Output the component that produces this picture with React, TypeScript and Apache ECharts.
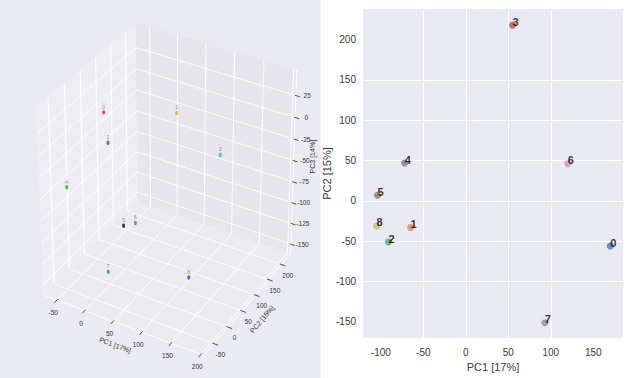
import React, { useEffect, useRef } from 'react';
import * as echarts from 'echarts';

// ---------- Right panel (2D PCA scatter) ----------
const pointLabels = ['0', '1', '2', '3', '4', '5', '6', '7', '8'];
const pc1 = [170, -65, -91, 55, -72, -104, 120, 93, -105];
const pc2 = [-56, -33, -51, 218, 47, 7, 46, -151, -31];
const pointColors = ['#4c72b0', '#dd8452', '#55a868', '#c44e52', '#8172b3', '#937860', '#da8bc3', '#8c8c8c', '#ccb974'];
const xTicks2d = [-100, -50, 0, 50, 100, 150];
const yTicks2d = [-150, -100, -50, 0, 50, 100, 150, 200];
const xRange2d = [-121, 185];
const yRange2d = [-170, 238];

// ---------- Left panel (3D PCA scatter) ----------
const labels3d = ['0', '1', '2', '3', '4', '5', '6', '7', '8'];
const pc1_3d = [-39, 57, -18, 120, -49, 13, 25, 5, 118];
const pc2_3d = [58, 119, 32, 145, -46, 22, 39, -16, 40];
const pc3_3d = [11, 11, -11, -32, -43, -97, -97, -140, -140];
const colors3d = ['#d62728', '#d4b12a', '#2455c3', '#30b5d5', '#2ca02c', '#111111', '#6f62d0', '#2ca02c', '#2455c3'];
const xTicks3d = [-50, 0, 50, 100, 150, 200];
const yTicks3d = [-50, 0, 50, 100, 150, 200];
const zTicks3d = [-150, -125, -100, -75, -50, -25, 0, 25];
const xLim3d = [-75, 205];
const yLim3d = [-85, 236];
const zLim3d = [-162, 54];

const FONT = "'Liberation Sans', Arial, sans-serif";

// camera (matplotlib-like default view)
const AZ = (-60 * Math.PI) / 180;
const EL = (30 * Math.PI) / 180;
const DIST = 10;
const R = [-Math.sin(AZ), Math.cos(AZ), 0];
const U = [-Math.sin(EL) * Math.cos(AZ), -Math.sin(EL) * Math.sin(AZ), Math.cos(EL)];
const E = [Math.cos(EL) * Math.cos(AZ), Math.cos(EL) * Math.sin(AZ), Math.sin(EL)];

function project(x: number, y: number, z: number): [number, number] {
  const a = (x - xLim3d[0]) / (xLim3d[1] - xLim3d[0]) - 0.5;
  const b = (y - yLim3d[0]) / (yLim3d[1] - yLim3d[0]) - 0.5;
  const c = (z - zLim3d[0]) / (zLim3d[1] - zLim3d[0]) - 0.5;
  const sx = a * R[0] + b * R[1] + c * R[2];
  const sy = a * U[0] + b * U[1] + c * U[2];
  const depth = DIST - (a * E[0] + b * E[1] + c * E[2]);
  return [sx / depth, sy / depth];
}

// projection plane extent shown by the left panel
const projX = [-0.09088, 0.08181];
const projY = [-0.09064, 0.08542];

const App: React.FC = () => {
  const ref = useRef<HTMLDivElement>(null);

  useEffect(() => {
    document.body.style.margin = '0';
    const chart = echarts.init(ref.current!, null, { renderer: 'svg' });
    const [x0, x1] = xLim3d;
    const [y0, y1] = yLim3d;
    const [z0, z1] = zLim3d;
    const Wy = y1 - y0;
    const Wx = x1 - x0;

    const renderBox = (params: any, api: any) => {
      const P = (x: number, y: number, z: number) => api.coord(project(x, y, z));
      const ch: any[] = [];
      const poly = (pts: number[][], fill: string) =>
        ch.push({ type: 'polygon', shape: { points: pts }, style: { fill, stroke: null } });
      const line = (p: number[], q: number[], stroke: string, w: number) =>
        ch.push({ type: 'line', shape: { x1: p[0], y1: p[1], x2: q[0], y2: q[1] }, style: { stroke, lineWidth: w } });
      const text = (t: string, p: number[], size: number, rot = 0, align = 'center') =>
        ch.push({
          type: 'text', x: p[0], y: p[1], rotation: rot,
          style: { text: t, fill: '#333', fontSize: size, fontFamily: FONT, align, verticalAlign: 'middle' },
        });

      // panes
      poly([P(x0, y0, z0), P(x0, y1, z0), P(x0, y1, z1), P(x0, y0, z1)], '#eeeef2');
      poly([P(x0, y1, z0), P(x1, y1, z0), P(x1, y1, z1), P(x0, y1, z1)], '#e6e6ec');
      poly([P(x0, y0, z0), P(x1, y0, z0), P(x1, y1, z0), P(x0, y1, z0)], '#ececf0');

      const gw = 0.9;
      xTicks3d.forEach((t) => {
        line(P(t, y0, z0), P(t, y1, z0), '#ffffff', gw);
        line(P(t, y1, z0), P(t, y1, z1), '#ffffff', gw);
      });
      yTicks3d.forEach((t) => {
        line(P(x0, t, z0), P(x1, t, z0), '#ffffff', gw);
        line(P(x0, t, z0), P(x0, t, z1), '#ffffff', gw);
      });
      zTicks3d.forEach((t) => {
        line(P(x0, y0, t), P(x0, y1, t), '#ffffff', gw);
        line(P(x0, y1, t), P(x1, y1, t), '#ffffff', gw);
      });
      // axis lines
      line(P(x0, y0, z0), P(x1, y0, z0), '#ffffff', 1);
      line(P(x1, y0, z0), P(x1, y1, z0), '#ffffff', 1);
      line(P(x1, y1, z0), P(x1, y1, z1), '#ffffff', 1);

      // ticks + labels
      const tc = '#3a3a3a';
      xTicks3d.forEach((t) => {
        line(P(t, y0 + 0.01 * Wy, z0), P(t, y0 - 0.025 * Wy, z0), tc, 0.9);
        const e = P(t, y0, z0);
        text(String(t), [e[0] - 3.6, e[1] + 12.4], 6.5);
      });
      yTicks3d.forEach((t) => {
        line(P(x1 - 0.01 * Wx, t, z0), P(x1 + 0.025 * Wx, t, z0), tc, 0.9);
        const e = P(x1, t, z0);
        text(String(t), [e[0] + 6.4, e[1] + 10.8], 6.5);
      });
      zTicks3d.forEach((t) => {
        line(P(x1 - 0.005 * Wx, y1, t), P(x1 + 0.025 * Wx, y1, t), tc, 0.9);
        const e = P(x1, y1, t);
        text(String(t), [e[0] + 11.4, e[1]], 6.5);
      });
      // axis titles
      const mx = P((x0 + x1) / 2, y0, z0);
      text('PC1 [17%]', [mx[0] - 6.5, mx[1] + 20.4], 7, (-20.7 * Math.PI) / 180);
      const my = P(x1, (y0 + y1) / 2, z0);
      text('PC2 [15%]', [my[0] + 13.3, my[1] + 16.5], 7, (49.6 * Math.PI) / 180);
      const mz = P(x1, y1, (z0 + z1) / 2);
      text('PC3 [14%]', [mz[0] + 18.7, mz[1] - 7.4], 7, Math.PI / 2);
      return { type: 'group', children: ch };
    };

    const option: any = {
      animation: false,
      backgroundColor: '#ffffff',
      grid: [
        { left: 363, top: 9, width: 260, height: 329, show: true, backgroundColor: '#eaeaf2', borderWidth: 0 },
        { left: 0, top: 0, width: 320.5, height: 378, show: true, backgroundColor: '#eaeaf2', borderWidth: 0 },
      ],
      xAxis: [
        {
          gridIndex: 0, type: 'value', min: xRange2d[0], max: xRange2d[1],
          axisLine: { show: false },
          axisTick: { show: false, customValues: xTicks2d },
          axisLabel: { customValues: xTicks2d, color: '#3a3a3a', fontSize: 10, fontFamily: FONT, margin: 9 },
          splitLine: { show: true, showMinLine: false, showMaxLine: false, lineStyle: { color: '#ffffff', width: 1 } },
          name: 'PC1 [17%]', nameLocation: 'middle', nameGap: 21,
          nameTextStyle: { color: '#3a3a3a', fontSize: 11, fontFamily: FONT },
        },
        { gridIndex: 1, type: 'value', min: projX[0], max: projX[1], show: false },
      ],
      yAxis: [
        {
          gridIndex: 0, type: 'value', min: yRange2d[0], max: yRange2d[1],
          axisLine: { show: false },
          axisTick: { show: false, customValues: yTicks2d },
          axisLabel: { customValues: yTicks2d, color: '#3a3a3a', fontSize: 10, fontFamily: FONT, margin: 7 },
          splitLine: { show: true, showMinLine: false, showMaxLine: false, lineStyle: { color: '#ffffff', width: 1 } },
          name: 'PC2 [15%]', nameLocation: 'middle', nameGap: 27, nameRotate: 90,
          nameTextStyle: { color: '#3a3a3a', fontSize: 11, fontFamily: FONT },
        },
        { gridIndex: 1, type: 'value', min: projY[0], max: projY[1], show: false },
      ],
      series: [
        {
          type: 'scatter', xAxisIndex: 0, yAxisIndex: 0, symbol: 'circle', symbolSize: 7,
          data: pc1.map((x, i) => ({
            value: [x, pc2[i]],
            itemStyle: { color: pointColors[i] },
            label: { formatter: pointLabels[i] },
          })),
          label: {
            show: true, position: [3.5, 5.5], align: 'left', verticalAlign: 'bottom',
            color: '#000', fontSize: 11, fontWeight: 'bold', fontFamily: FONT,
          },
          z: 5,
        },
        {
          type: 'custom', xAxisIndex: 1, yAxisIndex: 1, silent: true,
          data: [[0, 0]], renderItem: renderBox, z: 1,
        },
        {
          type: 'scatter', xAxisIndex: 1, yAxisIndex: 1, symbol: 'circle', symbolSize: [3, 4.5],
          data: pc1_3d.map((x, i) => ({
            value: project(x, pc2_3d[i], pc3_3d[i]),
            itemStyle: { color: colors3d[i] },
            label: { formatter: labels3d[i] },
          })),
          label: { show: true, position: 'top', distance: 1, fontSize: 5, color: '#666', fontFamily: FONT },
          z: 3,
        },
      ],
    };
    chart.setOption(option);
    return () => chart.dispose();
  }, []);

  return <div ref={ref} style={{ position: 'fixed', left: 0, top: 0, width: 630, height: 378 }} />;
};

export default App;
